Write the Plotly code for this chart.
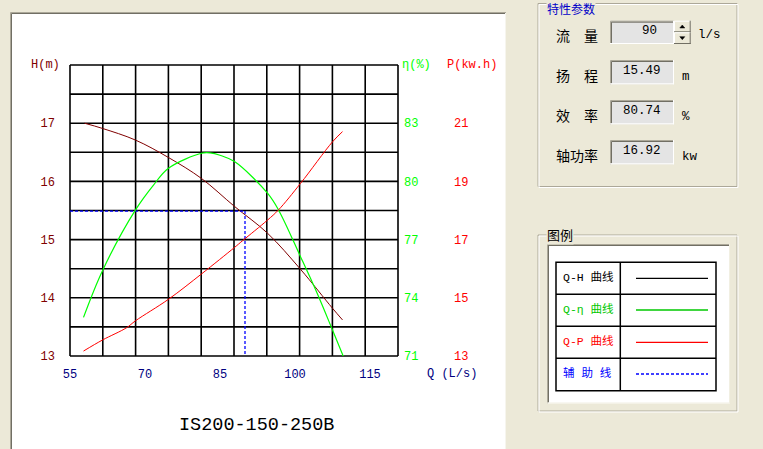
import plotly.graph_objects as go

W, HT = 763, 449

# ---------------- data ----------------
Q_TICKS = [55, 70, 85, 100, 115]
H_TICKS = [13, 14, 15, 16, 17]
ETA_TICKS = [71, 74, 77, 80, 83]
P_TICKS = [13, 15, 17, 19, 21]

Q_H = [57.9, 61.5, 68.1, 74.7, 81.3, 87.9, 94.5, 101.1, 107.5, 109.5]
HEAD = [17.00, 16.91, 16.71, 16.41, 16.05, 15.57, 15.11, 14.49, 13.82, 13.62]

Q_ETA = [57.7, 61.5, 68.1, 71.7, 74.7, 81.3, 83.0, 85.0, 87.9, 94.5, 96.7, 101.1, 104.3, 107.5, 109.7]
ETA = [72.99, 75.40, 78.53, 79.81, 80.68, 81.45, 81.47, 81.35, 81.02, 79.39, 78.53, 76.12, 74.31, 72.34, 70.96]

Q_P = [57.7, 61.5, 66.3, 68.1, 74.7, 81.3, 87.9, 89.5, 94.5, 96.7, 101.1, 107.5, 109.5]
POWER = [13.17, 13.55, 13.97, 14.21, 14.95, 15.82, 16.73, 16.96, 17.67, 18.02, 18.93, 20.36, 20.71]

Q_DUTY = 90
H_DUTY = 15.49
ETA_DUTY = 80.74
P_DUTY = 16.92

MODEL = "IS200-150-250B"

# ---------------- styling helpers ----------------
BG = "#ECE9D8"
MONO = "Liberation Mono, Noto Sans CJK SC"
CJK = "Noto Sans CJK SC"
DARKRED = "#800000"
LIME = "#00FF00"
RED = "#FF0000"
NAVY = "#000080"

shapes = []
annotations = []


def px(x):
    return x / W


def py(y):
    return 1 - y / HT


def rect(x0, y0, x1, y1, fill=None, line=None, lw=1, layer="above"):
    shapes.append(dict(type="rect", xref="paper", yref="paper",
                       x0=px(x0), x1=px(x1), y0=py(y1), y1=py(y0),
                       fillcolor=fill if fill else "rgba(0,0,0,0)",
                       line=dict(color=line if line else "rgba(0,0,0,0)", width=lw if line else 0),
                       layer=layer))


def seg(x0, y0, x1, y1, color, lw=1, dash=None, layer="above"):
    ln = dict(color=color, width=lw)
    if dash:
        ln["dash"] = dash
    shapes.append(dict(type="line", xref="paper", yref="paper",
                       x0=px(x0), x1=px(x1), y0=py(y0), y1=py(y1), line=ln, layer=layer))


def text(t, x, y, color="black", size=12, family=MONO, xanchor="left", bg=None):
    a = dict(text=t, x=px(x), y=py(y), xref="paper", yref="paper", showarrow=False,
             xanchor=xanchor, yanchor="middle", font=dict(color=color, size=size, family=family),
             borderpad=0)
    if bg:
        a["bgcolor"] = bg
    annotations.append(a)


# ---------------- chart panel ----------------
rect(12, 14, 505, 470, fill="white", layer="below")
seg(10.5, 12.5, 10.5, 470, "#ACA899", 1, layer="below")
seg(11.5, 13.5, 11.5, 470, "#716F64", 1, layer="below")
seg(10.5, 12.5, 506, 12.5, "#ACA899", 1, layer="below")
seg(11.5, 13.5, 505, 13.5, "#716F64", 1, layer="below")
seg(505.5, 13, 505.5, 470, "#F6F5EE", 1, layer="below")

# grid (10 x 10 cells)
for i in range(11):
    shapes.append(dict(type="line", xref="x domain", yref="y domain", x0=i / 10, x1=i / 10, y0=0, y1=1,
                       line=dict(color="black", width=1.6), layer="below"))
    shapes.append(dict(type="line", xref="x domain", yref="y domain", x0=0, x1=1, y0=i / 10, y1=i / 10,
                       line=dict(color="black", width=1.6), layer="below"))

# axis titles
text("H(m)", 45.5, 65, DARKRED, 12, xanchor="center")
text("η(%)", 401, 65, LIME, 12)
text("P(kw.h)", 446, 65, RED, 12)
text("Q (L/s)", 426, 373.5, NAVY, 12)
text(MODEL, 256, 425, "black", 18.5, family="Liberation Mono", xanchor="center")

# ---------------- parameter group ----------------
rect(538, 3.5, 737, 186.5, line="#ACA899", lw=1)
rect(539, 4.5, 738, 187.5, line="white", lw=1)
text("特性参数", 546, 9, "#0000C8", 12, family=CJK, bg=BG)

rows = [("流\u3000量", 35, str(Q_DUTY), "l/s", 20.7, 44),
        ("扬\u3000程", 75, f"{H_DUTY:.2f}", "m", 60, 84.3),
        ("效\u3000率", 115, f"{ETA_DUTY:.2f}", "%", 100, 124.3),
        ("轴功率", 155, f"{P_DUTY:.2f}", "kw", 140, 164.3)]
for i, (lab, ly, val, unit, by0, by1) in enumerate(rows):
    text(lab, 555, ly, "black", 14, family=CJK)
    rect(610, by0, 674, by1, fill="#E4E4E4")
    seg(610.5, by0 + 0.5, 674, by0 + 0.5, "#ACA899")
    seg(610.5, by0 + 0.5, 610.5, by1, "#ACA899")
    seg(611.5, by0 + 1.5, 673, by0 + 1.5, "#716F64")
    seg(611.5, by0 + 1.5, 611.5, by1 - 1, "#716F64")
    seg(610, by1 - 0.5, 674, by1 - 0.5, "white")
    seg(673.5, by0, 673.5, by1, "white")
    if i == 0:
        text(val, 649.5, (by0 + by1) / 2 - 1, "black", 12.5, family="Liberation Mono", xanchor="center")
        text(unit, 697, ly, "black", 12.5, family="Liberation Mono")
    else:
        text(val, 642, (by0 + by1) / 2 - 1, "black", 12.5, family="Liberation Mono", xanchor="center")
        text(unit, 681, ly + 2, "black", 12.5, family="Liberation Mono")

# spin buttons
for (b0, b1, up) in [(20.7, 32.3, True), (32.3, 44, False)]:
    rect(674, b0, 690.7, b1, fill=BG)
    seg(674.5, b0 + 0.5, 690.5, b0 + 0.5, "white")
    seg(674.5, b0 + 0.5, 674.5, b1, "white")
    seg(674, b1 - 0.5, 690.7, b1 - 0.5, "#716F64")
    seg(690.2, b0, 690.2, b1, "#716F64")
    cx, cy = 682.3, (b0 + b1) / 2
    if up:
        path = f"M {px(cx-2.5)} {py(cy+1.5)} L {px(cx+2.5)} {py(cy+1.5)} L {px(cx)} {py(cy-1.5)} Z"
    else:
        path = f"M {px(cx-2.5)} {py(cy-1.5)} L {px(cx+2.5)} {py(cy-1.5)} L {px(cx)} {py(cy+1.5)} Z"
    shapes.append(dict(type="path", xref="paper", yref="paper", path=path,
                       fillcolor="black", line=dict(color="black", width=0.5)))

# ---------------- legend group ----------------
rect(538, 235, 737, 411, line="#ACA899", lw=1)
rect(539, 236, 738, 412, line="white", lw=1)
text("图例", 546, 234.5, "black", 13, family=CJK, bg=BG)
rect(547, 244, 730, 403.5, fill="white")
seg(547, 244.5, 730, 244.5, "#ACA899")
seg(547.5, 244, 547.5, 403.5, "#ACA899")
seg(548, 245.5, 729, 245.5, "#716F64")
seg(548.5, 245, 548.5, 402.5, "#716F64")
seg(547, 403, 730, 403, "#F1EFE2")
seg(729.5, 244, 729.5, 403.5, "#F1EFE2")

rect(556, 262.3, 716, 390.7, line="black", lw=1.5)
seg(620.3, 262.3, 620.3, 390.7, "black", 1.5)
for yy in [294.3, 326.3, 358.3]:
    seg(556, yy, 716, yy, "black", 1.5)

leg = [("Q-H 曲线", "black", "black", None, 277, 278.3),
       ("Q-η 曲线", "#00C800", "#00C800", None, 309, 310),
       ("Q-P 曲线", RED, RED, None, 341, 342.3),
       ("辅 助 线", "#0000FF", "#0000FF", "3px,2px", 373, 374)]
for t, tc, lc, dash, ty, ly in leg:
    text(t, 562, ty, tc, 11.5)
    seg(636, ly, 708, ly, lc, 1.3, dash=dash)

# ---------------- traces ----------------
fig = go.Figure()
fig.add_trace(go.Scatter(x=Q_H, y=HEAD, mode="lines", line=dict(color=DARKRED, width=1, shape="spline"),
                         xaxis="x", yaxis="y", showlegend=False, hoverinfo="skip"))
fig.add_trace(go.Scatter(x=Q_ETA, y=ETA, mode="lines", line=dict(color=LIME, width=1.2, shape="spline"),
                         xaxis="x", yaxis="y2", showlegend=False, hoverinfo="skip"))
fig.add_trace(go.Scatter(x=Q_P, y=POWER, mode="lines", line=dict(color=RED, width=1, shape="spline"),
                         xaxis="x", yaxis="y3", showlegend=False, hoverinfo="skip"))
fig.add_trace(go.Scatter(x=[Q_TICKS[0], Q_DUTY, Q_DUTY], y=[H_DUTY, H_DUTY, H_TICKS[0]], mode="lines",
                         line=dict(color="#0000FF", width=1.3, dash="3px,2px"),
                         xaxis="x", yaxis="y", showlegend=False, hoverinfo="skip"))

dom_x = [px(70), px(398)]
dom_y = [py(356), py(65)]
tick_font = dict(family="Liberation Mono", size=12)

fig.update_layout(
    width=W, height=HT, margin=dict(l=0, r=0, t=0, b=0, pad=0), autosize=False,
    paper_bgcolor=BG, plot_bgcolor="white",
    shapes=shapes, annotations=annotations,
    xaxis=dict(domain=dom_x, range=[55, 55 + 328 / 5], tickvals=Q_TICKS, showgrid=False,
               zeroline=False, showline=False, ticks="", ticklabelstandoff=9, automargin=False,
               tickfont=dict(color=NAVY, **tick_font), fixedrange=True),
    yaxis=dict(domain=dom_y, range=[13, 18], tickvals=H_TICKS, showgrid=False, zeroline=False,
               showline=False, ticks="", ticklabelstandoff=14, automargin=False,
               tickfont=dict(color=DARKRED, **tick_font), fixedrange=True),
    yaxis2=dict(domain=dom_y, range=[71, 86], tickvals=ETA_TICKS, overlaying="y", side="right",
                anchor="x", showgrid=False, zeroline=False, showline=False, ticks="", automargin=False,
                ticklabelstandoff=5, tickfont=dict(color=LIME, **tick_font), fixedrange=True),
    yaxis3=dict(domain=dom_y, range=[13, 23], tickvals=P_TICKS, overlaying="y", side="right",
                anchor="free", position=px(452), showgrid=False, zeroline=False, showline=False,
                ticks="", ticklabelstandoff=1, automargin=False,
                tickfont=dict(color=RED, **tick_font), fixedrange=True),
    showlegend=False,
)

fig.write_html("out.html", config={"displayModeBar": False},
               post_script="document.body.style.margin='0';document.body.style.overflow='hidden';"
                           "document.documentElement.style.overflow='hidden';")
